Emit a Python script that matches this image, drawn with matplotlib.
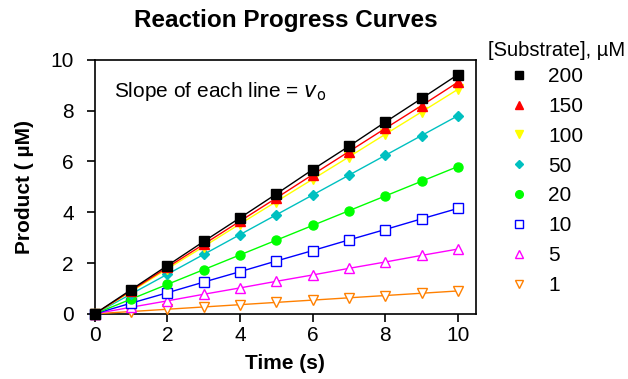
import matplotlib

matplotlib.use("Agg")
import matplotlib.pyplot as plt

plt.rcParams["font.family"] = ["Liberation Sans", "DejaVu Sans"]

time_s = [0, 1, 2, 3, 4, 5, 6, 7, 8, 9, 10]
substrate_labels = ["200", "150", "100", "50", "20", "10", "5", "1"]
product_200 = [0, 0.95, 1.90, 2.85, 3.78, 4.72, 5.68, 6.60, 7.55, 8.48, 9.42]
product_150 = [0, 0.91, 1.83, 2.74, 3.65, 4.56, 5.48, 6.39, 7.30, 8.20, 9.12]
product_100 = [0, 0.88, 1.77, 2.65, 3.54, 4.42, 5.30, 6.18, 7.07, 7.95, 8.84]
product_50 = [0, 0.78, 1.56, 2.34, 3.12, 3.90, 4.68, 5.46, 6.24, 7.02, 7.80]
product_20 = [0, 0.58, 1.16, 1.74, 2.32, 2.90, 3.48, 4.06, 4.64, 5.22, 5.80]
product_10 = [0, 0.42, 0.83, 1.25, 1.66, 2.08, 2.49, 2.91, 3.32, 3.74, 4.15]
product_5 = [0, 0.26, 0.51, 0.77, 1.02, 1.28, 1.53, 1.79, 2.04, 2.30, 2.55]
product_1 = [0, 0.09, 0.18, 0.27, 0.36, 0.45, 0.54, 0.63, 0.72, 0.81, 0.90]
series = [product_200, product_150, product_100, product_50,
          product_20, product_10, product_5, product_1]

colors = ["#000000", "#ff0000", "#ffff00", "#00c0c0",
          "#00ff00", "#0000ff", "#ff00ff", "#ff8000"]
markers = ["s", "^", "v", "D", "o", "s", "^", "v"]
filled = [True, True, True, True, True, False, False, False]
sizes = [7, 7, 7, 5, 6.5, 7, 7, 7]

fig = plt.figure(figsize=(6.28, 3.79), dpi=100)
ax = fig.add_axes([0.151, 0.172, 0.607, 0.670])

# draw smallest first so the 200 line ends on top
for lab, ys, c, m, f, ms in reversed(list(zip(substrate_labels, series, colors,
                                              markers, filled, sizes))):
    ax.plot(time_s, ys, color=c, lw=1.0, marker=m, markersize=ms,
            markerfacecolor=c if f else "white", markeredgecolor=c,
            markeredgewidth=1.0, label=lab, clip_on=False, zorder=3)

ax.set_xlim(0, 10.5)
ax.set_ylim(0, 10)
ax.set_xticks([0, 2, 4, 6, 8, 10])
ax.set_yticks([0, 2, 4, 6, 8, 10])
ax.tick_params(direction="out", length=6, width=1.2, labelsize=15, colors="black")
ax.tick_params(axis="y", pad=9)
ax.tick_params(axis="x", pad=3)
for s in ax.spines.values():
    s.set_linewidth(1.2)

fig.text(0.455, 0.945, "Reaction Progress Curves", fontsize=17.5,
         fontweight="bold", ha="center", va="center")
ax.set_xlabel("Time (s)", fontsize=15, fontweight="bold", labelpad=6)
ax.set_ylabel("Product ( µM)", fontsize=15, fontweight="bold", labelpad=12)
ax.text(0.05, 0.877, "Slope of each line = $v_\\mathrm{o}$", transform=ax.transAxes,
        fontsize=15, va="center", ha="left")

fig.text(0.777, 0.868, "[Substrate], µM", fontsize=14.5, ha="left", va="center")
handles, labels = ax.get_legend_handles_labels()
leg = fig.legend(handles[::-1], labels[::-1], loc="upper left",
                 bbox_to_anchor=(0.810, 0.823), frameon=False,
                 fontsize=15, handlelength=1.0, handletextpad=0.9,
                 labelspacing=0.52, borderpad=0, borderaxespad=0, markerscale=0.85)
for h in leg.legend_handles:
    h.set_linestyle("None")

fig.savefig("out.png", dpi=100)
